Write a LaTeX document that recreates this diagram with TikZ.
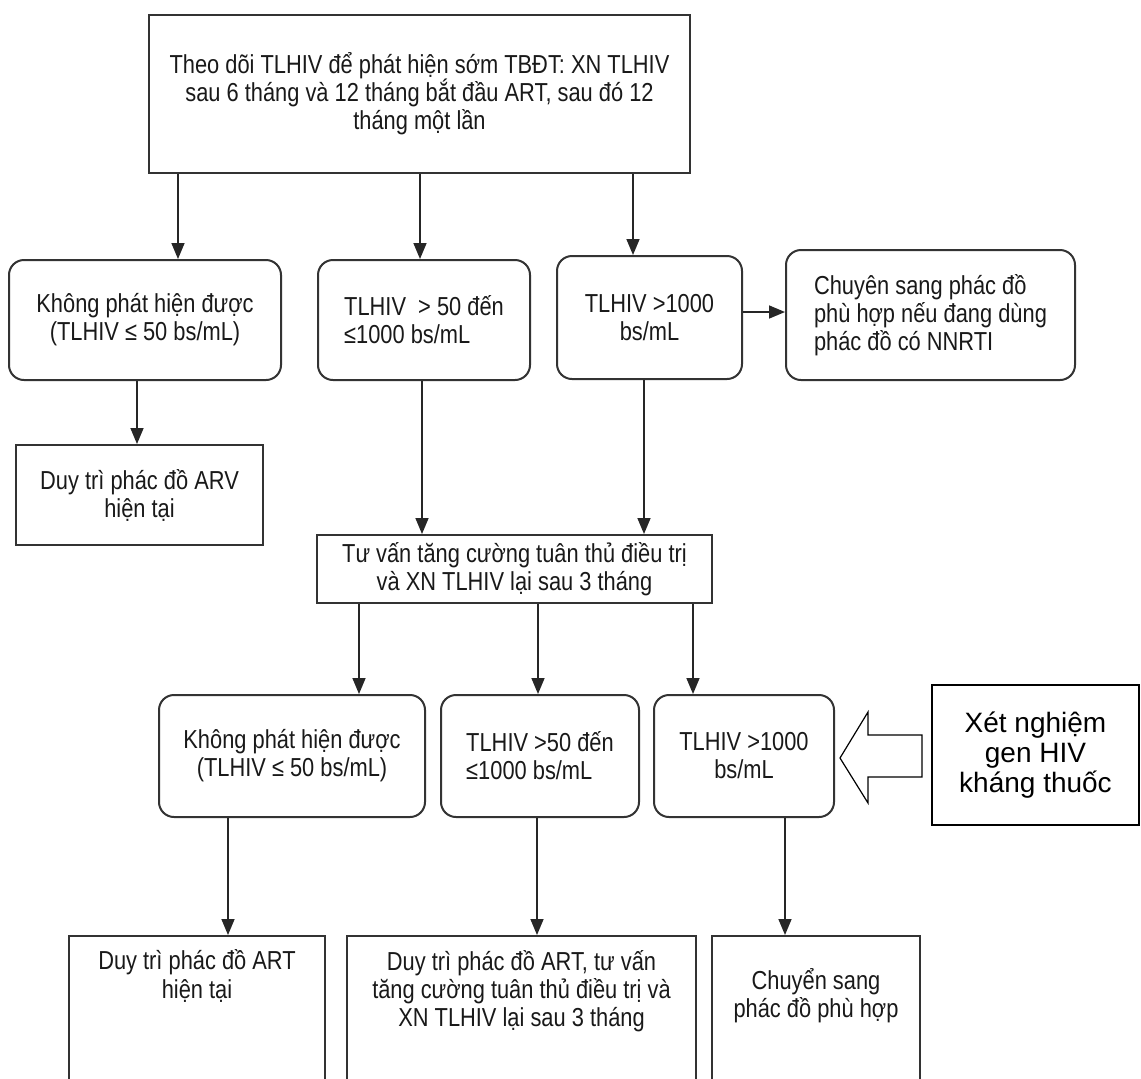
\documentclass[tikz,border=0pt]{standalone}
\usepackage{fontspec}
\setmainfont{Liberation Sans}[FakeStretch=0.84]
\newfontfamily\widefont{Liberation Sans}
\usetikzlibrary{arrows.meta}

\begin{document}
\begin{tikzpicture}[x=0.5pt,y=-0.5pt,
  box/.style={draw=black!80,line width=1pt,align=center,inner sep=2pt,text=black!90,
    font=\fontsize{13}{14}\selectfont},
  rbox/.style={box,rounded corners=7.5pt},
  bbox/.style={box,anchor=north,inner ysep=7pt,text depth=60pt},
  arr/.style={draw=black!85,line width=0.8pt,-{Triangle[width=6.5pt,length=8pt]}}]
\fill[white] (0,0) rectangle (1141,1078);
\clip (0,0) rectangle (1141,1078);
% first step
\node[box,minimum width=270.5pt,minimum height=79pt] (T) at (419.5,94)
  {Theo dõi TLHIV để phát hiện sớm TBĐT: XN TLHIV\\sau 6 tháng và 12 tháng bắt đầu ART, sau đó 12\\tháng một lần};
% viral load, first test
\node[rbox,minimum width=136pt,minimum height=60pt] (A1) at (145,320)
  {Không phát hiện được\\(TLHIV ≤ 50 bs/mL)};
\node[rbox,align=left,minimum width=106pt,minimum height=60pt] (A2) at (424,320)
  {TLHIV\ \ > 50 đến\\≤1000 bs/mL};
\node[rbox,minimum width=92.5pt,minimum height=61.5pt] (A3) at (649.5,317.5)
  {TLHIV >1000\\bs/mL};
\node[rbox,align=left,minimum width=144.5pt,minimum height=65pt] (A4) at (930.5,315)
  {Chuyên sang phác đồ\\phù hợp nếu đang dùng\\phác đồ có NNRTI};
\node[box,minimum width=123.5pt,minimum height=50pt] (R3a) at (139.5,495)
  {Duy trì phác đồ ARV\\hiện tại};
\node[box,minimum width=197.5pt,minimum height=34pt] (R3b) at (514.5,569)
  {Tư vấn tăng cường tuân thủ điều trị\\và XN TLHIV lại sau 3 tháng};
% viral load, after 3 months
\node[rbox,minimum width=133pt,minimum height=61pt] (L1) at (292,756)
  {Không phát hiện được\\(TLHIV ≤ 50 bs/mL)};
\node[rbox,align=left,minimum width=99pt,minimum height=61pt] (L2) at (540,756)
  {TLHIV >50 đến\\≤1000 bs/mL};
\node[rbox,minimum width=90pt,minimum height=61pt] (L3) at (744,756)
  {TLHIV >1000\\bs/mL};
\node[box,draw=black,line width=0.6pt,text=black,minimum width=103.5pt,minimum height=70pt,
  font=\widefont\fontsize{14}{15}\selectfont] (X) at (1035.5,755)
  {Xét nghiệm\\gen HIV\\kháng thuốc};
% what to do
\node[bbox,minimum width=128pt] (B1) at (197,935) {Duy trì phác đồ ART\\hiện tại};
\node[bbox,minimum width=174.5pt] (B2) at (521.5,935)
  {Duy trì phác đồ ART, tư vấn\\tăng cường tuân thủ điều trị và\\XN TLHIV lại sau 3 tháng};
\node[bbox,inner ysep=16pt,minimum width=104pt] (B3) at (816,935) {Chuyển sang\\phác đồ phù hợp};

\foreach \src/\dst/\dx in {T/A1/16.5,T/A2/-2,T/A3/-8.25,A1/R3a/-1.25,A2/R3b/-46.25,A3/R3b/64.75,
  R3b/L1/33.5,R3b/L2/-1,R3b/L3/-25.5,L1/B1/15.5,L2/B2/7.75,L3/B3/-15.5}
  {\draw[arr] ([xshift=\dx pt]\dst.north |- \src.south) -- ([xshift=\dx pt]\dst.north);}
\draw[arr] ([yshift=2.75pt]A3.east) -- ([yshift=2.75pt]A3.east -| A4.west);
% hollow arrow
\draw[black,line width=0.6pt] (840,758) -- (868,712) -- (868,735) -- (922,735)
  -- (922,777) -- (868,777) -- (868,803) -- cycle;
\end{tikzpicture}
\end{document}
